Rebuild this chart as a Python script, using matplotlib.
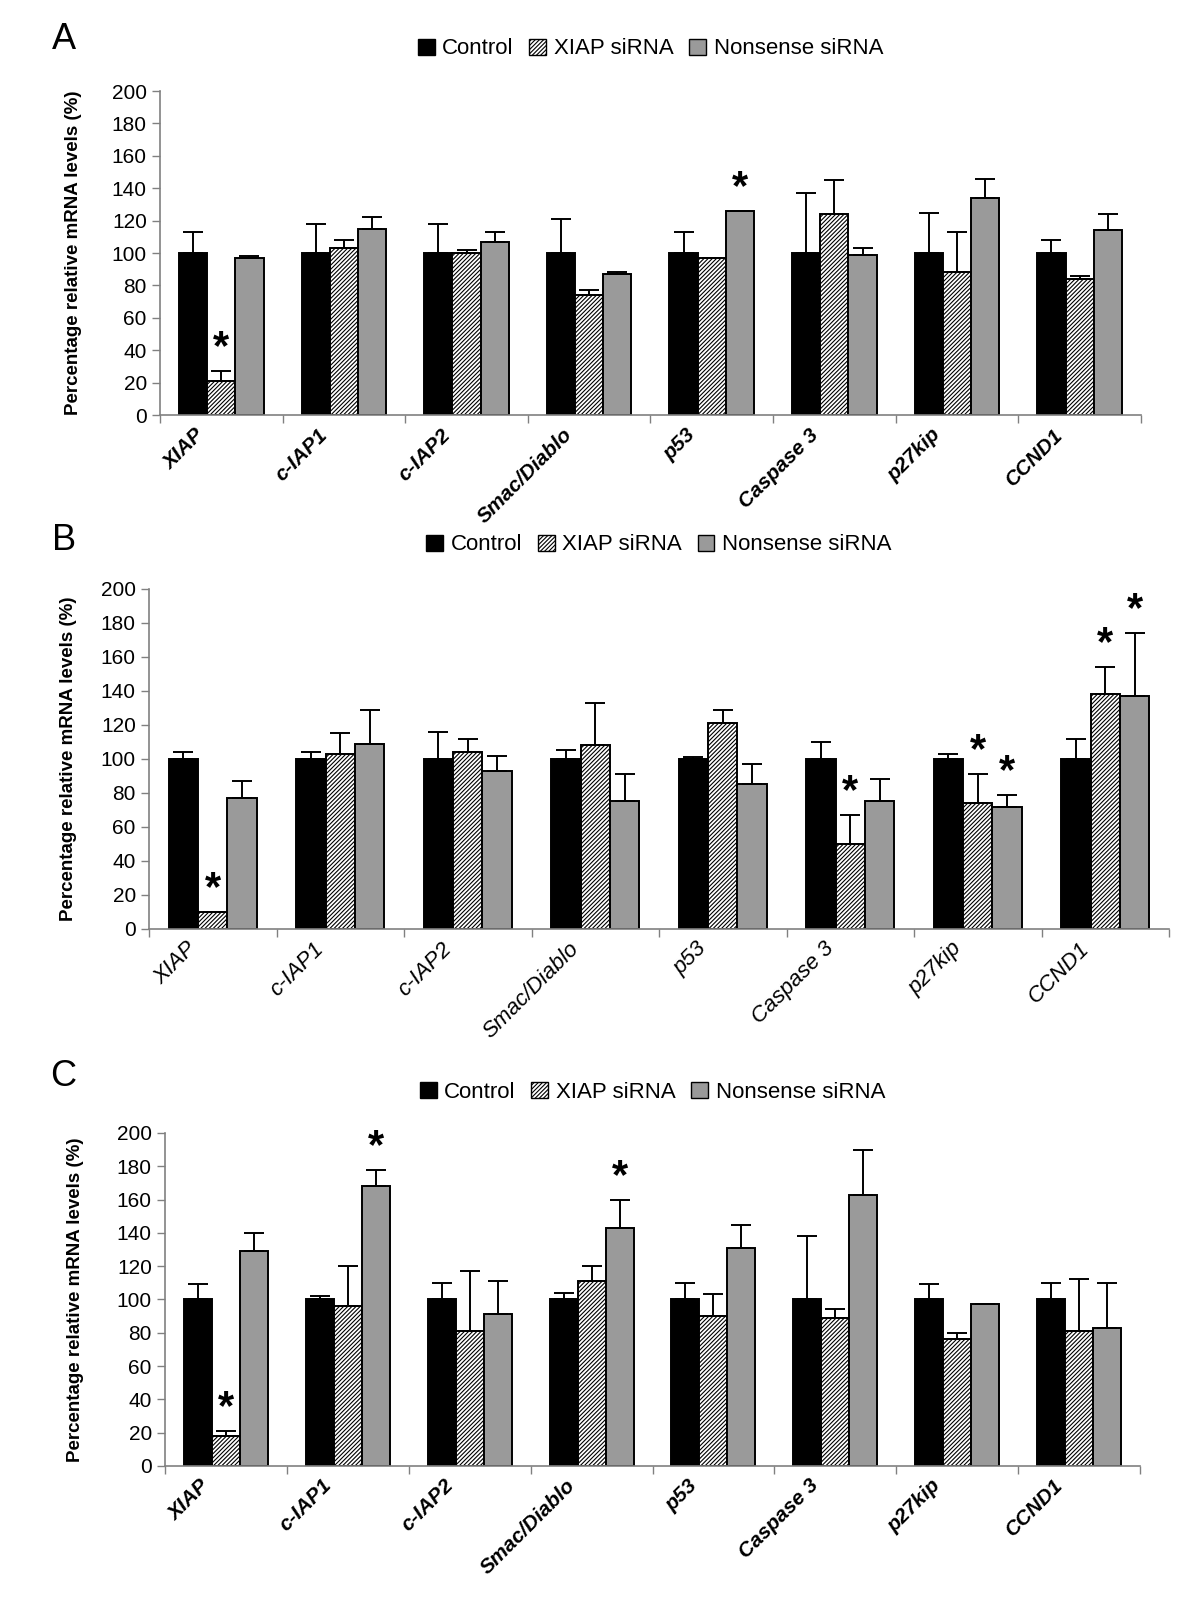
import numpy as np
import matplotlib.pyplot as plt
from matplotlib.patches import Patch
from matplotlib.transforms import ScaledTranslation

plt.rcParams['font.family'] = ['Liberation Sans', 'DejaVu Sans']
plt.rcParams['hatch.linewidth'] = 0.8

genes = ['XIAP', 'c-IAP1', 'c-IAP2', 'Smac/Diablo', 'p53', 'Caspase 3', 'p27kip', 'CCND1']
series = ['Control', 'XIAP siRNA', 'Nonsense siRNA']
yticks = [0, 20, 40, 60, 80, 100, 120, 140, 160, 180, 200]
ylabel = 'Percentage relative mRNA levels (%)'

# panel A
a_ctrl = [100, 100, 100, 100, 100, 100, 100, 100]
a_ctrl_err = [13, 18, 18, 21, 13, 37, 25, 8]
a_xiap = [21, 103, 100, 74, 97, 124, 88, 84]
a_xiap_err = [6, 5, 2, 3, 0, 21, 25, 2]
a_nons = [97, 115, 107, 87, 126, 99, 134, 114]
a_nons_err = [1, 7, 6, 1, 0, 4, 12, 10]
a_stars = [(0, 1), (4, 2)]

# panel B
b_ctrl = [100, 100, 100, 100, 100, 100, 100, 100]
b_ctrl_err = [4, 4, 16, 5, 1, 10, 3, 12]
b_xiap = [10, 103, 104, 108, 121, 50, 74, 138]
b_xiap_err = [0, 12, 8, 25, 8, 17, 17, 16]
b_nons = [77, 109, 93, 75, 85, 75, 72, 137]
b_nons_err = [10, 20, 9, 16, 12, 13, 7, 37]
b_stars = [(0, 1), (5, 1), (6, 1), (6, 2), (7, 1), (7, 2)]

# panel C
c_ctrl = [100, 100, 100, 100, 100, 100, 100, 100]
c_ctrl_err = [9, 2, 10, 4, 10, 38, 9, 10]
c_xiap = [18, 96, 81, 111, 90, 89, 76, 81]
c_xiap_err = [3, 24, 36, 9, 13, 5, 4, 31]
c_nons = [129, 168, 91, 143, 131, 163, 97, 83]
c_nons_err = [11, 10, 20, 17, 14, 27, 0, 27]
c_stars = [(0, 1), (1, 2), (3, 2)]

faces = ['black', 'white', '#9a9a9a']
hatches = [None, '////////', None]

fig = plt.figure(figsize=(12, 16), dpi=100)

panels = [
    ('A', [0.1333, 0.7406, 0.8175, 0.2025], 0.9756, 0.9694, 0.061,
     [a_ctrl, a_xiap, a_nons], [a_ctrl_err, a_xiap_err, a_nons_err], a_stars, 'bold', 15),
    ('B', [0.1242, 0.4194, 0.85, 0.2125], 0.6619, 0.6594, 0.057,
     [b_ctrl, b_xiap, b_nons], [b_ctrl_err, b_xiap_err, b_nons_err], b_stars, 'normal', 16),
    ('C', [0.1375, 0.0838, 0.8125, 0.2081], 0.3269, 0.3175, 0.063,
     [c_ctrl, c_xiap, c_nons], [c_ctrl_err, c_xiap_err, c_nons_err], c_stars, 'bold', 15),
]

x = np.arange(len(genes))
w = 0.23
for letter, rect, ly, legy, ylx, vals, errs, stars, lw, lsize in panels:
    ax = fig.add_axes(rect)
    for i in range(3):
        ax.bar(x + (i - 1) * w, vals[i], w, color=faces[i], edgecolor='black',
               linewidth=1.4, hatch=hatches[i], zorder=2)
        ax.errorbar(x + (i - 1) * w, vals[i], yerr=[np.zeros(len(genes)), errs[i]],
                    fmt='none', ecolor='black', elinewidth=1.4, capsize=7,
                    capthick=1.4, zorder=3)
    for gi, si in stars:
        top = vals[si][gi] + errs[si][gi]
        ax.annotate('*', (x[gi] + (si - 1) * w, top), xytext=(0, 2),
                    textcoords='offset points', ha='center', va='bottom',
                    fontsize=30, fontweight='bold')
    ax.set_xlim(-0.5, len(genes) - 0.5)
    ax.set_ylim(0, 200)
    ax.set_yticks(yticks)
    ax.tick_params(axis='y', labelsize=15, length=6, color='#808080', width=1)
    ax.set_xticks(x)
    ax.set_xticks(np.arange(len(genes) + 1) - 0.5, minor=True)
    ax.tick_params(axis='x', which='major', length=0, pad=12)
    ax.tick_params(axis='x', which='minor', length=6, color='#808080', width=1)
    labels = ax.set_xticklabels(genes, rotation=45, ha='right', va='center',
                                rotation_mode='anchor', fontsize=lsize,
                                fontweight=lw, fontstyle='italic')
    for t in labels:
        t.set_transform(t.get_transform() + ScaledTranslation(-14 / 72, 0, fig.dpi_scale_trans))
    for s in ['top', 'right']:
        ax.spines[s].set_visible(False)
    for s in ['left', 'bottom']:
        ax.spines[s].set_color('#808080')
        ax.spines[s].set_linewidth(1.2)
    fig.text(ylx, rect[1] + rect[3] / 2, ylabel, rotation=90, ha='center', va='center',
             fontsize=13.5, fontweight='bold', family=['Liberation Sans Narrow', 'Liberation Sans'])
    fig.text(0.053, ly, letter, fontsize=26, ha='center', va='center')
    handles = [Patch(facecolor=faces[i], edgecolor='black', hatch=hatches[i], linewidth=1)
               for i in range(3)]
    fig.legend(handles, series, loc='center', bbox_to_anchor=(rect[0] + rect[2] / 2, legy),
               ncol=3, frameon=False, fontsize=16, handlelength=0.75, handleheight=0.75,
               handletextpad=0.35, columnspacing=0.7)

fig.savefig('out.png', dpi=100)
